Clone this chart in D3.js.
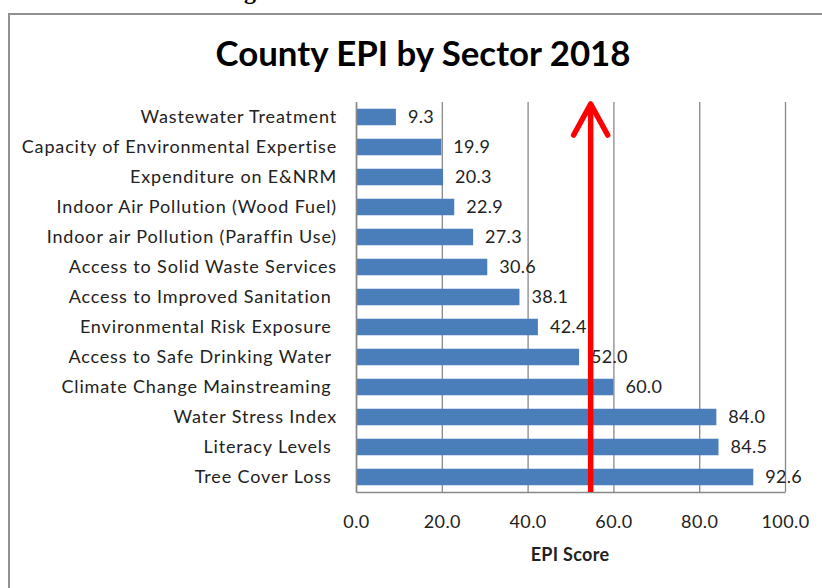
<!DOCTYPE html>
<html>
<head>
<meta charset="utf-8">
<script src="https://cdn.jsdelivr.net/npm/d3@7/dist/d3.min.js"></script>
<style>
  html, body { margin: 0; padding: 0; background: #fff; }
  svg { display: block; }
  text { white-space: pre; }
</style>
</head>
<body>
<svg id="chart" width="822" height="588"></svg>
<script>
// ---- Data ----
const categories = [
  "Wastewater Treatment",
  "Capacity of Environmental Expertise",
  "Expenditure on E&NRM",
  "Indoor Air Pollution (Wood Fuel)",
  "Indoor air Pollution (Paraffin Use)",
  "Access to Solid Waste Services",
  "Access to Improved Sanitation ",
  "Environmental Risk Exposure ",
  "Access to Safe Drinking Water ",
  "Climate Change Mainstreaming ",
  "Water Stress Index",
  "Literacy Levels ",
  "Tree Cover Loss "
];
const values = [9.3, 19.9, 20.3, 22.9, 27.3, 30.6, 38.1, 42.4, 52.0, 60.0, 84.0, 84.5, 92.6];
const xTicks = [0, 20, 40, 60, 80, 100];
const arrowValue = [54.7];
const titleText = "County EPI by Sector 2018";
const xTitle = "EPI Score";

// ---- Layout ----
const svg = d3.select("#chart");
const plot = { left: 356, right: 785, top: 102, bottom: 492 };
const FONT = "Lato, 'Open Sans', sans-serif";

// outer frame
svg.append("rect")
  .attr("x", 9).attr("y", 14).attr("width", 840).attr("height", 600)
  .attr("fill", "#fff").attr("stroke", "#909090").attr("stroke-width", 2);

// cut-off heading descender above frame (as in the reference)
svg.append("text")
  .attr("x", 250).attr("y", -1.5)
  .attr("text-anchor", "middle")
  .attr("font-family", "'Liberation Serif', serif")
  .attr("font-weight", "bold")
  .attr("font-size", 24)
  .attr("fill", "#000")
  .text("g");

// title
svg.append("text")
  .attr("x", 423).attr("y", 65.5)
  .attr("text-anchor", "middle")
  .attr("font-family", FONT)
  .attr("font-weight", "bold")
  .attr("font-size", 34)
  .attr("fill", "#000")
  .attr("textLength", 415)
  .attr("lengthAdjust", "spacingAndGlyphs")
  .text(titleText);

const x = d3.scaleLinear().domain([0, 100]).range([plot.left, plot.right]);
const y = d3.scaleBand().domain(categories).range([plot.top, plot.bottom])
  .paddingInner(0.45).paddingOuter(0.225);

// x axis with gridlines
const xAxis = svg.append("g")
  .attr("transform", `translate(0,${plot.bottom})`)
  .call(d3.axisBottom(x).tickValues(xTicks).tickFormat(d3.format(".1f"))
    .tickSize(-(plot.bottom - plot.top)).tickSizeOuter(0).tickPadding(23));
xAxis.select(".domain").attr("stroke", "#888").attr("stroke-width", 1.5);
xAxis.selectAll(".tick line").attr("stroke", "#888").attr("stroke-width", 1.3);
xAxis.selectAll(".tick text")
  .attr("font-family", FONT).attr("font-size", 18).attr("fill", "#222")
  .attr("letter-spacing", 0.4);

// bars
svg.append("g").selectAll("rect")
  .data(categories)
  .join("rect")
  .attr("x", x(0))
  .attr("y", d => y(d))
  .attr("width", (d, i) => x(values[i]) - x(0))
  .attr("height", y.bandwidth())
  .attr("fill", "#4a7ebb");

// y axis (category labels)
const yAxis = svg.append("g")
  .attr("transform", `translate(${plot.left},0)`)
  .call(d3.axisLeft(y).tickSize(0).tickPadding(19));
yAxis.select(".domain").attr("stroke", "#888").attr("stroke-width", 1.5);
yAxis.selectAll(".tick text")
  .attr("font-family", FONT).attr("font-size", 18).attr("fill", "#222")
  .attr("letter-spacing", 0.85);

// value labels
svg.append("g").selectAll("text")
  .data(categories)
  .join("text")
  .attr("x", (d, i) => x(values[i]) + 12)
  .attr("y", d => y(d) + y.bandwidth() / 2)
  .attr("dy", "0.36em")
  .attr("font-family", FONT).attr("font-size", 18).attr("fill", "#222")
  .attr("letter-spacing", 0.3)
  .text((d, i) => d3.format(".1f")(values[i]));

// x axis title
svg.append("text")
  .attr("x", 570).attr("y", 561)
  .attr("text-anchor", "middle")
  .attr("font-family", FONT).attr("font-weight", "bold")
  .attr("font-size", 18).attr("fill", "#222")
  .attr("letter-spacing", 0.3)
  .text(xTitle);

// red arrow annotation
const arrow = svg.append("g")
  .attr("stroke", "#ff0000").attr("fill", "none")
  .attr("stroke-width", 5.5).attr("stroke-linecap", "round").attr("stroke-linejoin", "round");
arrowValue.forEach(v => {
  const ax = x(v);
  arrow.append("line")
    .attr("x1", ax).attr("y1", plot.top + 3)
    .attr("x2", ax).attr("y2", plot.bottom)
    .attr("stroke-linecap", "butt");
  arrow.append("polyline")
    .attr("points", `${ax - 17},${plot.top + 33} ${ax},${plot.top + 2} ${ax + 17},${plot.top + 33}`);
});
</script>
</body>
</html>
